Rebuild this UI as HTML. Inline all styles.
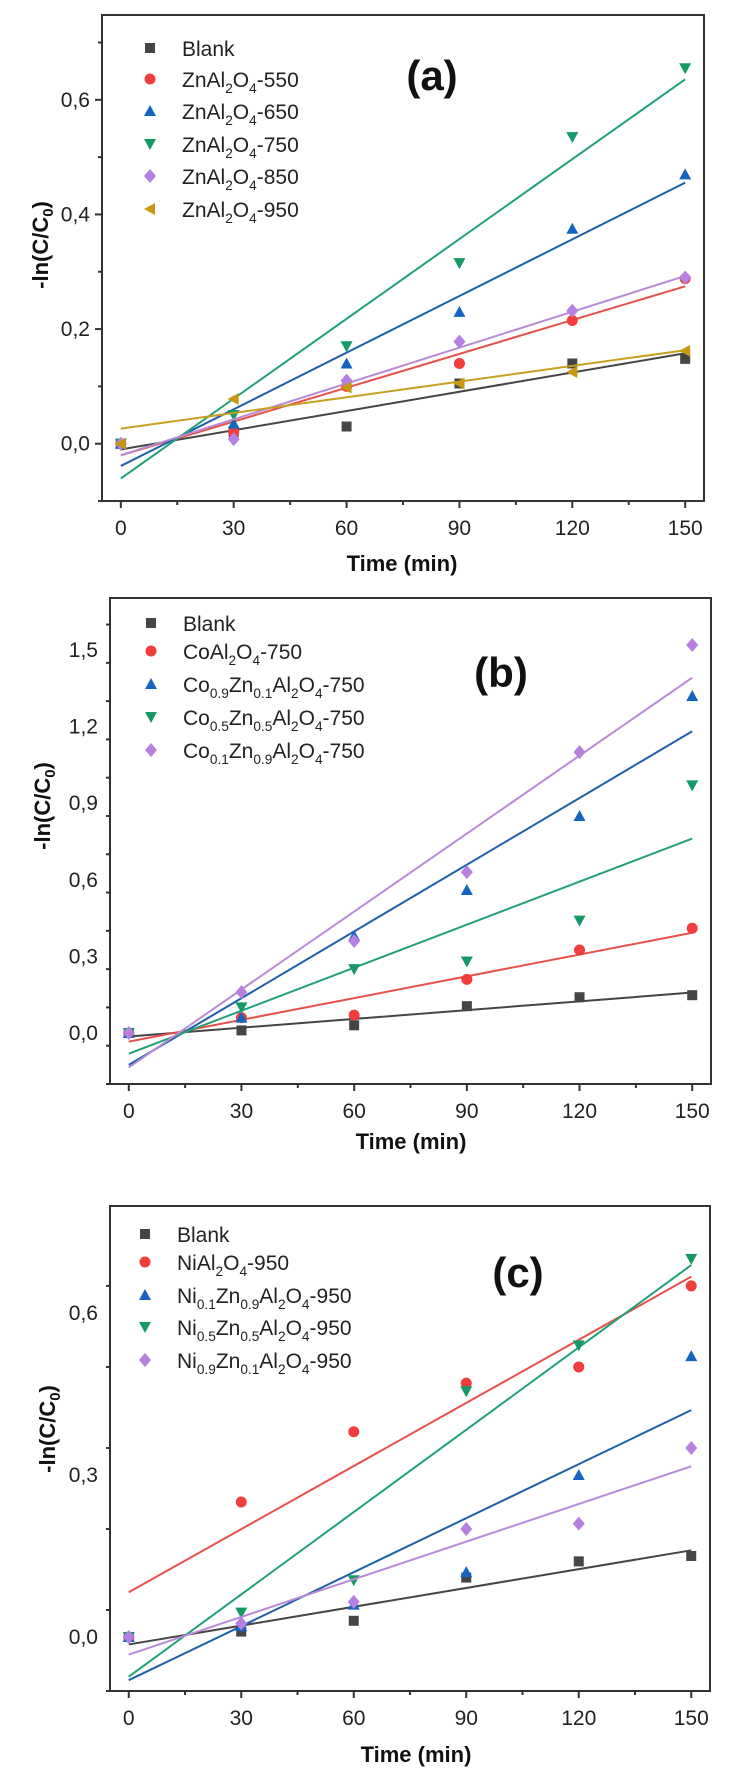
<!DOCTYPE html>
<html><head><meta charset="utf-8"><style>
html,body{margin:0;padding:0;background:#fff;}
svg{display:block;font-family:"Liberation Sans",Arial,sans-serif;}
</style></head><body>
<svg id="fig" width="731" height="1781" viewBox="0 0 731 1781" xmlns="http://www.w3.org/2000/svg"></svg>
<script>
const times = [0, 30, 60, 90, 120, 150];
const xTicks = [0, 30, 60, 90, 120, 150];

const aNames = ["Blank", "ZnAl<sub>2</sub>O<sub>4</sub>-550", "ZnAl<sub>2</sub>O<sub>4</sub>-650", "ZnAl<sub>2</sub>O<sub>4</sub>-750", "ZnAl<sub>2</sub>O<sub>4</sub>-850", "ZnAl<sub>2</sub>O<sub>4</sub>-950"];
const aBlank = [0, 0.02, 0.03, 0.105, 0.14, 0.148];
const a550 = [0, 0.02, 0.1, 0.14, 0.215, 0.288];
const a650 = [0, 0.035, 0.14, 0.23, 0.375, 0.47];
const a750 = [0, 0.05, 0.17, 0.315, 0.535, 0.655];
const a850 = [0, 0.008, 0.11, 0.178, 0.232, 0.29];
const a950 = [0, 0.078, 0.098, 0.105, 0.125, 0.162];
const aYTicks = ["0,0", "0,2", "0,4", "0,6"];
const aYTickVals = [0, 0.2, 0.4, 0.6];

const bNames = ["Blank", "CoAl<sub>2</sub>O<sub>4</sub>-750", "Co<sub>0.9</sub>Zn<sub>0.1</sub>Al<sub>2</sub>O<sub>4</sub>-750", "Co<sub>0.5</sub>Zn<sub>0.5</sub>Al<sub>2</sub>O<sub>4</sub>-750", "Co<sub>0.1</sub>Zn<sub>0.9</sub>Al<sub>2</sub>O<sub>4</sub>-750"];
const bBlank = [0, 0.01, 0.03, 0.105, 0.14, 0.148];
const bCo = [0, 0.06, 0.07, 0.21, 0.325, 0.41];
const bCo09 = [0, 0.06, 0.38, 0.56, 0.85, 1.32];
const bCo05 = [0, 0.1, 0.25, 0.28, 0.44, 0.97];
const bCo01 = [0, 0.16, 0.36, 0.63, 1.1, 1.52];
const bYTicks = ["0,0", "0,3", "0,6", "0,9", "1,2", "1,5"];
const bYTickVals = [0, 0.3, 0.6, 0.9, 1.2, 1.5];

const cNames = ["Blank", "NiAl<sub>2</sub>O<sub>4</sub>-950", "Ni<sub>0.1</sub>Zn<sub>0.9</sub>Al<sub>2</sub>O<sub>4</sub>-950", "Ni<sub>0.5</sub>Zn<sub>0.5</sub>Al<sub>2</sub>O<sub>4</sub>-950", "Ni<sub>0.9</sub>Zn<sub>0.1</sub>Al<sub>2</sub>O<sub>4</sub>-950"];
const cBlank = [0, 0.01, 0.03, 0.11, 0.14, 0.15];
const cNi = [0, 0.25, 0.38, 0.47, 0.5, 0.65];
const cNi01 = [0, 0.02, 0.06, 0.12, 0.3, 0.52];
const cNi05 = [0, 0.045, 0.105, 0.455, 0.54, 0.7];
const cNi09 = [0, 0.025, 0.065, 0.2, 0.21, 0.35];
const cYTicks = ["0,0", "0,3", "0,6"];
const cYTickVals = [0, 0.3, 0.6];

const NS = "http://www.w3.org/2000/svg";
const svg = document.getElementById("fig");
const COL = {k:"#454545", r:"#f23d3d", b:"#1565c0", g:"#159a66", p:"#b77fe0", y:"#c89810"};
const LCOL = {k:"#454545", r:"#e8504a", b:"#1e5fa8", g:"#22a077", p:"#b88ad8", y:"#c8a020"};

function el(tag, attrs, parent){
  const e = document.createElementNS(NS, tag);
  for (const k in attrs) e.setAttribute(k, attrs[k]);
  (parent || svg).appendChild(e);
  return e;
}
function richText(parent, x, y, html, size){
  const t = el("text", {x:x, y:y, "font-size":size, fill:"#222"}, parent);
  const parts = html.split(/(<sub>.*?<\/sub>)/);
  for (const p of parts){
    if (!p) continue;
    const sp = document.createElementNS(NS, "tspan");
    if (p.startsWith("<sub>")){
      sp.textContent = p.replace(/<\/?sub>/g, "");
      sp.setAttribute("font-size", size*0.65);
      sp.setAttribute("dy", size*0.28);
    } else {
      sp.textContent = p;
      sp.setAttribute("dy", t.childNodes.length && t.lastChild.getAttribute("font-size") ? -size*0.28 : 0);
    }
    t.appendChild(sp);
  }
  return t;
}
function marker(g, type, cx, cy, color){
  const s = 6;
  let m;
  if (type === "sq") m = el("rect", {x:cx-5, y:cy-5, width:10, height:10, fill:color}, g);
  else if (type === "ci") m = el("circle", {cx:cx, cy:cy, r:5.5, fill:color}, g);
  else if (type === "up") m = el("polygon", {points:`${cx},${cy-s} ${cx+s},${cy+s-1} ${cx-s},${cy+s-1}`, fill:color}, g);
  else if (type === "dn") m = el("polygon", {points:`${cx-s},${cy-s+1} ${cx+s},${cy-s+1} ${cx},${cy+s}`, fill:color}, g);
  else if (type === "di") m = el("polygon", {points:`${cx},${cy-7} ${cx+6},${cy} ${cx},${cy+7} ${cx-6},${cy}`, fill:color}, g);
  else if (type === "lf") m = el("polygon", {points:`${cx-s},${cy} ${cx+s-1},${cy-s} ${cx+s-1},${cy+s}`, fill:color}, g);
  return m;
}
function fit(xs, ys){
  const n = xs.length;
  const mx = xs.reduce((a,b)=>a+b,0)/n, my = ys.reduce((a,b)=>a+b,0)/n;
  let sxy=0, sxx=0;
  for (let i=0;i<n;i++){ sxy += (xs[i]-mx)*(ys[i]-my); sxx += (xs[i]-mx)**2; }
  const m = sxy/sxx; return [m, my - m*mx];
}

function panel(o){
  const g = el("g", {});
  
  
  const X = v => o.L + (v - (-5)) / 160 * (o.R - o.L);
  const Y = v => o.B - (v - o.ymin) / (o.ymax - o.ymin) * (o.B - o.T);
  // frame
  const fr = el("rect", {x:o.L, y:o.T, width:o.R-o.L, height:o.B-o.T, fill:"none", stroke:"#333", "stroke-width":2}, g);
  
  
  // x ticks
  for (let v=0; v<=150; v+=15){
    const major = v % 30 === 0;
    el("line", {x1:X(v), x2:X(v), y1:o.B, y2:o.B+(major?7:4), stroke:"#333", "stroke-width":2}, g);
  }
  xTicks.forEach(v=>{
    const t = el("text", {x:X(v), y:o.B+34, "font-size":21, "text-anchor":"middle", fill:"#222"}, g);
    t.textContent = v;
    
    
  });
  // y ticks
  for (let v=o.ymin; v<=o.ymax+1e-9; v+=o.minor){
    const vv = Math.round(v*1000)/1000;
    const major = o.yVals.some(t=>Math.abs(t-vv)<1e-6);
    el("line", {x1:o.L, x2:o.L-(major?7:4), y1:Y(vv), y2:Y(vv), stroke:"#333", "stroke-width":2}, g);
  }
  o.yVals.forEach((v,i)=>{
    const t = el("text", {x:o.L-12, y:Y(v)+7, "font-size":21, "text-anchor":"end", fill:"#222"}, g);
    t.textContent = o.yLabels[i];
    
    
  });
  // axis titles
  const xt = el("text", {x:o.xtX, y:o.xtY, "font-size":22, "font-weight":"bold", "text-anchor":"middle", fill:"#111"}, g);
  xt.textContent = "Time (min)";
  
  
  const yt = el("text", {transform:`translate(${o.ytX},${o.ytY}) rotate(-90)`, "font-size":22, "font-weight":"bold", "text-anchor":"middle", fill:"#111"}, g);
  
  
  const a = document.createElementNS(NS,"tspan"); a.textContent = "-ln(C/C"; yt.appendChild(a);
  const b = document.createElementNS(NS,"tspan"); b.textContent = "0"; b.setAttribute("font-size",15); b.setAttribute("dy",5); yt.appendChild(b);
  const c = document.createElementNS(NS,"tspan"); c.textContent = ")"; c.setAttribute("dy",-5); yt.appendChild(c);
  // label
  const pl = el("text", {x:o.labX, y:o.labY, "font-size":42, "font-weight":"bold", "text-anchor":"middle", fill:"#111"}, g);
  pl.textContent = o.label;
  
  
  // series
  o.series.forEach((s, i)=>{
    const sg = el("g", {}, g);
    
    
    const [m, c0] = fit(times, s.data);
    const ln = el("line", {x1:X(0), y1:Y(c0), x2:X(150), y2:Y(c0+m*150), stroke:LCOL[s.c], "stroke-width":2}, sg);
    
    
    times.forEach((t, j)=>{
      const mk = marker(sg, s.m, X(t), Y(s.data[j]), COL[s.c]);
      
      
    });
    // legend
    const ly = o.legY[i];
    const lg = el("g", {}, g);
    
    
    marker(lg, s.m, o.legMX, ly, COL[s.c]);
    richText(lg, o.legTX, ly + 8, o.names[i], 21);
  });
}

panel({name:"panel-a", L:102, R:704, T:15, B:501, ymin:-0.1, ymax:0.748, minor:0.1,
  yVals:aYTickVals, yLabels:aYTicks, xtX:402, xtY:571, ytX:48, ytY:245, label:"(a)", labX:432, labY:90,
  names:aNames, legMX:150, legTX:182, legY:[48,79,111,144,176,209],
  series:[{key:"blank",data:aBlank,c:"k",m:"sq"},{key:"550",data:a550,c:"r",m:"ci"},{key:"650",data:a650,c:"b",m:"up"},
          {key:"750",data:a750,c:"g",m:"dn"},{key:"850",data:a850,c:"p",m:"di"},{key:"950",data:a950,c:"y",m:"lf"}]});

panel({name:"panel-b", L:110, R:711, T:598, B:1084, ymin:-0.2, ymax:1.704, minor:0.15,
  yVals:bYTickVals, yLabels:bYTicks, xtX:411, xtY:1149, ytX:50, ytY:806, label:"(b)", labX:501, labY:687,
  names:bNames, legMX:151, legTX:183, legY:[623,651,684,717,750],
  series:[{key:"blank",data:bBlank,c:"k",m:"sq"},{key:"co",data:bCo,c:"r",m:"ci"},{key:"co09",data:bCo09,c:"b",m:"up"},
          {key:"co05",data:bCo05,c:"g",m:"dn"},{key:"co01",data:bCo01,c:"p",m:"di"}]});

panel({name:"panel-c", L:110, R:710, T:1206, B:1691, ymin:-0.1, ymax:0.798, minor:0.15,
  yVals:cYTickVals, yLabels:cYTicks, xtX:416, xtY:1762, ytX:55, ytY:1429, label:"(c)", labX:518, labY:1287,
  names:cNames, legMX:145, legTX:177, legY:[1234,1262,1295,1327,1360],
  series:[{key:"blank",data:cBlank,c:"k",m:"sq"},{key:"ni",data:cNi,c:"r",m:"ci"},{key:"ni01",data:cNi01,c:"b",m:"up"},
          {key:"ni05",data:cNi05,c:"g",m:"dn"},{key:"ni09",data:cNi09,c:"p",m:"di"}]});
</script>
</body></html>
